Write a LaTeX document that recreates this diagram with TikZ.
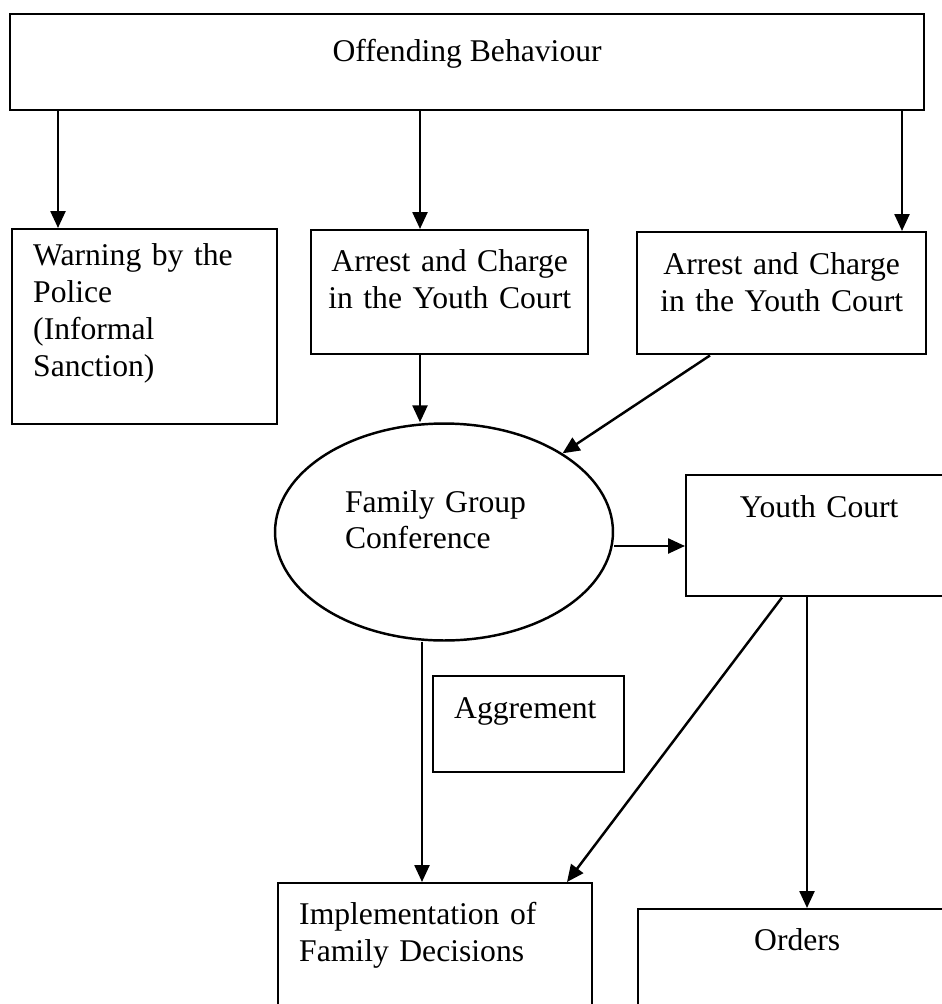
\documentclass[tikz,border=0pt]{standalone}
\usepackage{fontspec}
\setmainfont{Liberation Serif}
\usepackage{tikz}
\usetikzlibrary{arrows.meta,shapes.geometric}
\newcommand{\diagfont}{\fontsize{18pt}{21.05pt}\selectfont}
\tikzset{
  ar/.style={-{Triangle[length=0.34cm,width=0.3cm]},line width=1.4pt},
  bx/.style={draw,line width=1.4pt,inner sep=0pt,anchor=north west,font=\diagfont},
  el/.style={draw,ellipse,line width=1.4pt,inner sep=0pt,font=\diagfont}
}
\begin{document}
\begin{tikzpicture}[x=0.02cm,y=-0.02cm]
\useasboundingbox (0,0) rectangle (942,1004);
\clip (0,0) rectangle (942,1004);
\node[bx,minimum width=18.28cm,text height=0.94cm,text depth=0.98cm] (ob) at (9,13) {Offending Behaviour};
\node[bx,text width=4.46cm,inner xsep=0.42cm,align=left,text height=0.72cm,text depth=3.18cm] (warn) at (11,228) {Warning by the\\Police\\(Informal\\Sanction)};
\node[bx,text width=5.54cm,align=center,text height=0.82cm,text depth=1.66cm] (arr1) at (310,229) {Arrest and Charge\\in the Youth Court};
\node[bx,text width=5.78cm,align=center,text height=0.84cm,text depth=1.6cm] (arr2) at (636,231) {Arrest and Charge\\in the Youth Court};
\node[el,minimum width=6.76cm,minimum height=4.34cm,text width=3.96cm,align=left,text height=0.5cm,text depth=1.3cm] (fgc) at (444,532) {Family Group\\Conference};
\node[bx,text width=5.32cm,align=center,text height=0.84cm,text depth=1.58cm] (yc) at (685,474) {Youth Court};
\node[bx,text width=2.98cm,inner xsep=0.42cm,align=left,text height=0.84cm,text depth=1.08cm] (agr) at (432,675) {Aggrement};
\node[bx,text width=5.44cm,inner xsep=0.42cm,align=left,text height=0.82cm,text depth=1.7cm] (impl) at (277,882) {Implementation of\\Family Decisions};
\node[bx,text width=6.36cm,align=center,text height=0.82cm,text depth=1.18cm] (ord) at (637,908) {Orders};

\draw[ar] (ob.south -| 58,0) -- (warn.north -| 58,0);
\draw[ar] (ob.south -| 420,0) -- (arr1.north -| 420,0);
\draw[ar] (ob.south -| 902,0) -- (arr2.north -| 902,0);
\draw[ar] (arr1.south -| 420,0) -- (fgc.north -| 420,0);
\draw[ar] (arr2.south -| 710,0) -- (fgc);
\draw[ar] (fgc.east |- 0,546) -- (yc.west |- 0,546);
\draw[ar] (fgc.south -| 422,0) -- (impl.north -| 422,0);
\draw[ar] (yc.south -| 782,0) -- (impl.north -| 567,0);
\draw[ar] (yc.south -| 807,0) -- (ord.north -| 807,0);
\end{tikzpicture}
\end{document}
